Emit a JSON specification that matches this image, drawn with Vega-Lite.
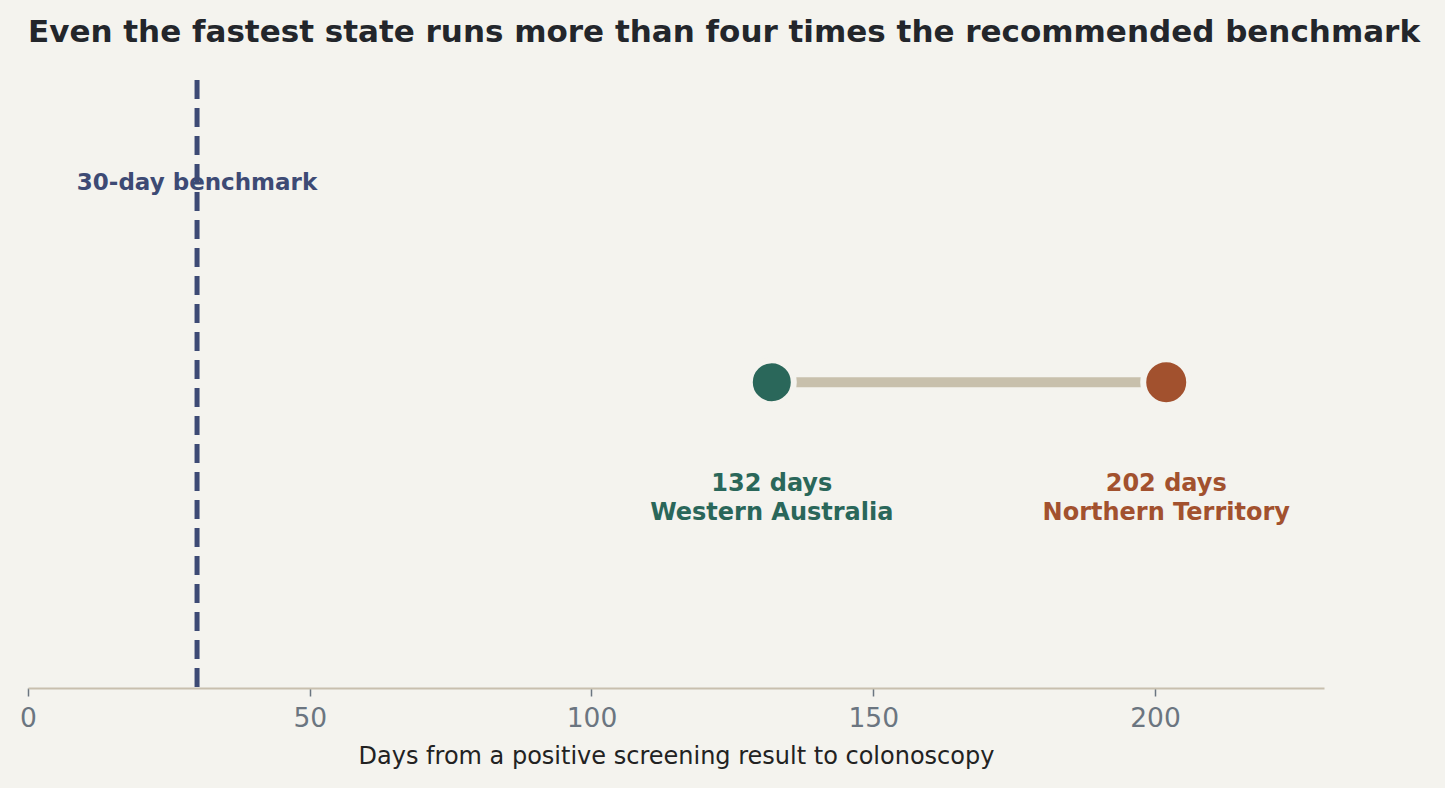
{
  "$schema": "https://vega.github.io/schema/vega-lite/v6.json",
  "autosize": "none",
  "width": 1296,
  "height": 608,
  "padding": {"left": 28, "top": 80, "right": 121, "bottom": 100},
  "background": "#f4f3ee",
  "title": {
    "text": "Even the fastest state runs more than four times the recommended benchmark",
    "anchor": "start",
    "frame": "group",
    "font": "DejaVu Sans",
    "fontSize": 31,
    "fontWeight": "bold",
    "color": "#23262b",
    "offset": 29
  },
  "config": {
    "view": {"stroke": null},
    "font": "DejaVu Sans"
  },
  "datasets": {
    "states": [
      {"region": "Western Australia", "days": 132, "label": ["132 days", "Western Australia"]},
      {"region": "Northern Territory", "days": 202, "label": ["202 days", "Northern Territory"]}
    ],
    "benchmark": [
      {"days": 30, "label": "30-day benchmark"}
    ]
  },
  "layer": [
    {
      "data": {"name": "benchmark"},
      "mark": {"type": "rule", "color": "#3d4a74", "strokeWidth": 5, "strokeDash": [19, 9]},
      "encoding": {
        "x": {"field": "days", "type": "quantitative"}
      }
    },
    {
      "data": {"name": "benchmark"},
      "mark": {"type": "text", "color": "#3d4a74", "fontSize": 23, "fontWeight": "bold", "align": "center", "baseline": "middle"},
      "encoding": {
        "x": {"field": "days", "type": "quantitative"},
        "y": {"datum": 0.83},
        "text": {"field": "label"}
      }
    },
    {
      "data": {"name": "states"},
      "mark": {"type": "rule", "color": "#c8c0ac", "strokeWidth": 10},
      "encoding": {
        "x": {"field": "days", "type": "quantitative", "aggregate": "min"},
        "x2": {"field": "days", "aggregate": "max"},
        "y": {"datum": 0.503}
      }
    },
    {
      "data": {"name": "states"},
      "mark": {"type": "circle", "opacity": 1, "stroke": "#f4f3ee", "strokeWidth": 6},
      "encoding": {
        "x": {"field": "days", "type": "quantitative"},
        "y": {"datum": 0.503},
        "color": {
          "field": "region",
          "type": "nominal",
          "scale": {"domain": ["Western Australia", "Northern Territory"], "range": ["#2a675a", "#a2512e"]},
          "legend": null
        },
        "size": {
          "field": "region",
          "type": "nominal",
          "scale": {"domain": ["Western Australia", "Northern Territory"], "range": [1936, 2116]},
          "legend": null
        }
      }
    },
    {
      "data": {"name": "states"},
      "mark": {"type": "text", "fontSize": 24, "fontWeight": "bold", "align": "center", "baseline": "middle", "dy": 102, "lineHeight": 29},
      "encoding": {
        "x": {"field": "days", "type": "quantitative"},
        "y": {"datum": 0.503},
        "text": {"field": "label"},
        "color": {"field": "region", "type": "nominal", "legend": null}
      }
    }
  ],
  "resolve": {"scale": {"color": "shared"}},
  "encoding": {
    "x": {
      "type": "quantitative",
      "scale": {"domain": [0, 230], "nice": false, "zero": true},
      "axis": {
        "title": "Days from a positive screening result to colonoscopy",
        "values": [0, 50, 100, 150, 200],
        "grid": false,
        "labelFlush": false,
        "domainColor": "#c8bfae",
        "domainWidth": 2,
        "tickColor": "#6b7580",
        "tickSize": 8,
        "tickWidth": 1.5,
        "labelColor": "#6b7580",
        "labelFontSize": 26.5,
        "labelPadding": 9,
        "titleColor": "#222222",
        "titleFontSize": 24,
        "titleFontWeight": "normal",
        "titlePadding": 13
      }
    },
    "y": {
      "type": "quantitative",
      "scale": {"domain": [0, 1]},
      "axis": null
    }
  }
}
